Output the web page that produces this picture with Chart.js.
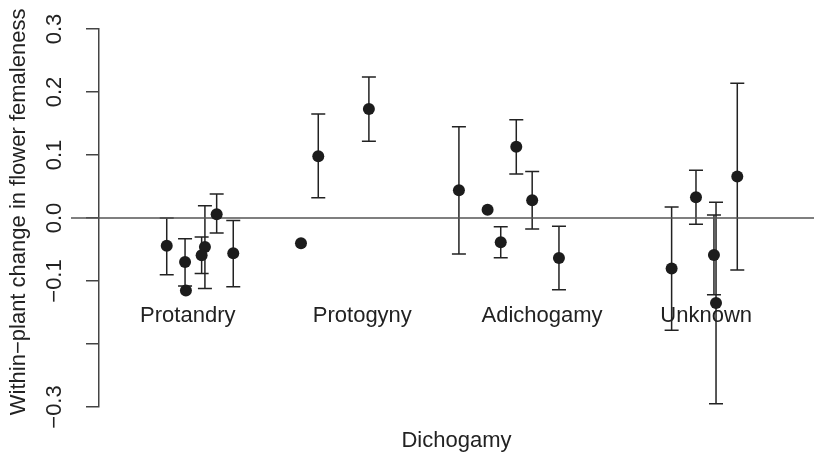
<!DOCTYPE html>
<html>
<head>
<meta charset="utf-8">
<script src="https://cdn.jsdelivr.net/npm/chart.js@4"></script>
<style>
  html, body { margin: 0; padding: 0; background: #fff; }
</style>
</head>
<body>
<canvas id="chart" width="814" height="457"></canvas>
<script>
// group labels placed inside the plot
const groupNames = ['Protandry', 'Protogyny', 'Adichogamy', 'Unknown'];
const groupLabelX = [0.99, 2.0, 3.04, 3.99];
const groupLabelY = -0.155;

// jittered positions, means and interval ends (null = no interval drawn)
const pointX = [0.868, 0.974, 0.979, 1.089, 1.070, 1.157, 1.253,
                1.645, 1.745, 2.038,
                2.559, 2.725, 2.801, 2.891, 2.983, 3.138,
                3.790, 3.931, 4.035, 4.047, 4.170];
const pointY = [-0.044, -0.070, -0.115, -0.046, -0.059, 0.006, -0.056,
                -0.040, 0.098, 0.173,
                0.044, 0.013, -0.0385, 0.113, 0.028, -0.0635,
                -0.080, 0.033, -0.0587, -0.135, 0.066];
const lowerCI = [-0.090, -0.108, null, -0.112, -0.088, -0.024, -0.109,
                 null, 0.032, 0.122,
                 -0.057, null, -0.063, 0.070, -0.0175, -0.114,
                 -0.178, -0.010, -0.122, -0.295, -0.0825];
const upperCI = [0.000, -0.033, null, 0.0195, -0.030, 0.038, -0.004,
                 null, 0.165, 0.224,
                 0.145, null, -0.014, 0.156, 0.074, -0.013,
                 0.0175, 0.0757, 0.0048, 0.025, 0.214];

const yTickValues = [0.3, 0.2, 0.1, 0.0, -0.1, -0.2, -0.3];
const yTickLabels = ['0.3', '0.2', '0.1', '0.0', '\u22120.1', '', '\u22120.3'];

const refLineX = [0.314, 4.614];

const FONT = '"Liberation Sans", Arial, Helvetica, sans-serif';
const INK = '#222';

const groupText = {
    id: 'groupText',
    beforeDatasetsDraw(chart) {
        const { ctx, scales: { x, y } } = chart;
        ctx.save();
        ctx.font = '22px ' + FONT;
        ctx.fillStyle = INK;
        ctx.textAlign = 'center';
        ctx.textBaseline = 'middle';
        groupNames.forEach((name, i) => {
            ctx.fillText(name, x.getPixelForValue(groupLabelX[i]), y.getPixelForValue(groupLabelY));
        });
        ctx.restore();
    }
};

// intervals drawn as whiskers with flat caps
const errorBars = {
    id: 'errorBars',
    beforeDatasetsDraw(chart) {
        const { ctx, scales: { x, y } } = chart;
        ctx.save();
        ctx.strokeStyle = INK;
        ctx.lineWidth = 1.5;
        for (let i = 0; i < pointX.length; i++) {
            if (lowerCI[i] === null) continue;
            const px = x.getPixelForValue(pointX[i]);
            const top = y.getPixelForValue(upperCI[i]);
            const bot = y.getPixelForValue(lowerCI[i]);
            ctx.beginPath();
            ctx.moveTo(px, top); ctx.lineTo(px, bot);
            ctx.moveTo(px - 7, top); ctx.lineTo(px + 7, top);
            ctx.moveTo(px - 7, bot); ctx.lineTo(px + 7, bot);
            ctx.stroke();
        }
        ctx.restore();
    }
};

new Chart(document.getElementById('chart').getContext('2d'), {
    type: 'scatter',
    data: {
        datasets: [{
            label: 'means',
            data: pointX.map((v, i) => ({ x: v, y: pointY[i] })),
            pointRadius: 6,
            pointHoverRadius: 6,
            backgroundColor: '#1c1c1c',
            borderWidth: 0
        }, {
            label: 'zero',
            type: 'line',
            data: refLineX.map(v => ({ x: v, y: 0 })),
            borderColor: '#555',
            borderWidth: 1.5,
            pointRadius: 0,
            clip: false
        }]
    },
    options: {
        responsive: false,
        animation: false,
        devicePixelRatio: 1,
        layout: { autoPadding: false, padding: { top: 29, right: 0, bottom: 0, left: 0 } },
        plugins: {
            legend: { display: false },
            tooltip: { enabled: false }
        },
        scales: {
            x: {
                type: 'linear',
                min: 0.476,
                max: 4.614,
                ticks: { display: false },
                grid: { display: false },
                border: { display: false },
                title: {
                    display: true,
                    text: 'Dichogamy',
                    color: INK,
                    font: { family: FONT, size: 22 },
                    padding: { top: 0, bottom: 3 }
                },
                afterFit: function (scale) { scale.height = 50; }
            },
            y: {
                type: 'linear',
                min: -0.3,
                max: 0.3,
                afterBuildTicks: function (scale) {
                    scale.ticks = yTickValues.map(v => ({ value: v }));
                },
                ticks: {
                    autoSkip: false,
                    minRotation: 90,
                    maxRotation: 90,
                    crossAlign: 'center',
                    padding: 9,
                    color: INK,
                    font: { family: FONT, size: 22 },
                    callback: function (value) {
                        const i = yTickValues.findIndex(t => Math.abs(t - value) < 1e-9);
                        return i >= 0 ? yTickLabels[i] : '';
                    }
                },
                grid: {
                    drawOnChartArea: false,
                    drawTicks: true,
                    tickLength: 13,
                    color: '#444',
                    lineWidth: 1.5
                },
                border: { display: true, color: '#444', width: 1.5 },
                title: {
                    display: true,
                    text: '  Within\u2212plant change in flower femaleness',
                    color: INK,
                    font: { family: FONT, size: 22 },
                    padding: { top: 6, bottom: 0 }
                },
                afterFit: function (scale) { scale.width = 99; }
            }
        }
    },
    plugins: [groupText, errorBars]
});
</script>
</body>
</html>
